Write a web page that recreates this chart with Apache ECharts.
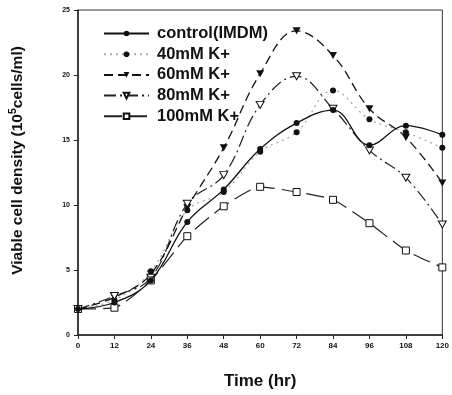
<!DOCTYPE html>
<html>
<head>
<meta charset="utf-8">
<script src="https://cdn.jsdelivr.net/npm/echarts@6/dist/echarts.min.js"></script>
<style>
  html, body { margin: 0; padding: 0; background: #fff; }
  #chart { width: 452px; height: 395px; }
</style>
</head>
<body>
<div id="chart"></div>
<script>
const hours = [0, 12, 24, 36, 48, 60, 72, 84, 96, 108, 120]
const control = [2, 2.5, 4.2, 8.7, 11.2, 14.3, 16.3, 17.3, 14.6, 16.1, 15.4]
const k40 = [2, 2.7, 4.9, 9.6, 11.0, 14.1, 15.6, 18.8, 16.6, 15.6, 14.4]
const k60 = [2, 2.9, 4.7, 9.8, 14.4, 20.1, 23.4, 21.5, 17.4, 15.2, 11.7]
const k80 = [2, 3.0, 4.4, 10.1, 12.3, 17.7, 19.9, 17.4, 14.2, 12.1, 8.5]
const k100 = [2, 2.1, 4.2, 7.6, 9.9, 11.4, 11.0, 10.4, 8.6, 6.5, 5.2]
const names = ['control(IMDM)', '40mM K+', '60mM K+', '80mM K+', '100mM K+']

const pair = (arr) => arr.map((v, i) => [hours[i], v])
const downTri = 'path://M0,0 L10,0 L5,9 Z'
const font = 'Liberation Sans, Arial, sans-serif'

const chart = echarts.init(document.getElementById('chart'))
chart.setOption({
  animation: false,
  grid: {
    left: 70, right: 5, top: 10, bottom: 57,
    show: true, borderColor: '#333', borderWidth: 1,
  },
  legend: {
    orient: 'vertical',
    left: 98,
    top: 20,
    itemWidth: 45,
    itemHeight: 7,
    itemGap: 3.7,
    data: names,
    textStyle: {
      fontSize: 16.5, fontFamily: font, fontWeight: 'bold', color: '#111',
      padding: [0, 0, 0, 3],
    },
  },
  xAxis: {
    type: 'value',
    min: 0,
    max: 120,
    interval: 12,
    name: 'Time (hr)',
    nameLocation: 'middle',
    nameGap: 38,
    nameTextStyle: { fontSize: 17, fontWeight: 'bold', fontFamily: font, color: '#111' },
    splitLine: { show: false },
    axisLine: { lineStyle: { color: '#222', width: 1.5 } },
    axisTick: { length: 4, lineStyle: { color: '#222' } },
    axisLabel: { fontSize: 8, fontWeight: 'bold', fontFamily: font, color: '#111', margin: 7 },
  },
  yAxis: {
    type: 'value',
    min: 0,
    max: 25,
    interval: 5,
    name: '{t|Viable cell density (10}{s|5}{t|cells/ml)}',
    nameLocation: 'middle',
    nameGap: 50,
    nameTextStyle: {
      fontFamily: font,
      color: '#111',
      padding: [0, 0, 0, 24],
      rich: {
        t: { fontSize: 15.5, fontWeight: 'bold', fontFamily: font, color: '#111' },
        s: { fontSize: 10.5, fontWeight: 'bold', fontFamily: font, color: '#111', padding: [0, 0, 9, 0] },
      },
    },
    splitLine: { show: false },
    axisLine: { show: true, lineStyle: { color: '#222', width: 1.5 } },
    axisTick: { show: true, length: 4, lineStyle: { color: '#222' } },
    axisLabel: { fontSize: 7, fontWeight: 'bold', fontFamily: font, color: '#111', margin: 8 },
  },
  series: [
    {
      name: names[0],
      type: 'line',
      data: pair(control),
      smooth: 0.4,
      symbol: 'circle',
      symbolSize: 6,
      itemStyle: { color: '#111' },
      lineStyle: { color: '#111', width: 1.3, type: 'solid' },
      z: 5,
    },
    {
      name: names[1],
      type: 'line',
      data: pair(k40),
      smooth: 0.4,
      symbol: 'circle',
      symbolSize: 6,
      itemStyle: { color: '#111' },
      lineStyle: { color: '#aaa', width: 1.3, type: [2, 4] },
    },
    {
      name: names[2],
      type: 'line',
      data: pair(k60),
      smooth: 0.4,
      symbol: downTri,
      symbolSize: [8, 7],
      itemStyle: { color: '#111' },
      lineStyle: { color: '#111', width: 1.3, type: [9, 5] },
    },
    {
      name: names[3],
      type: 'line',
      data: pair(k80),
      smooth: 0.4,
      symbol: downTri,
      symbolSize: [8, 7],
      itemStyle: { color: '#fff', borderColor: '#111', borderWidth: 1 },
      lineStyle: { color: '#222', width: 1.2, type: [12, 4, 2, 4] },
    },
    {
      name: names[4],
      type: 'line',
      data: pair(k100),
      smooth: 0.2,
      symbol: 'rect',
      symbolSize: 7,
      itemStyle: { color: '#fff', borderColor: '#111', borderWidth: 1 },
      lineStyle: { color: '#222', width: 1.2, type: [18, 7] },
    },
  ],
})
</script>
</body>
</html>
